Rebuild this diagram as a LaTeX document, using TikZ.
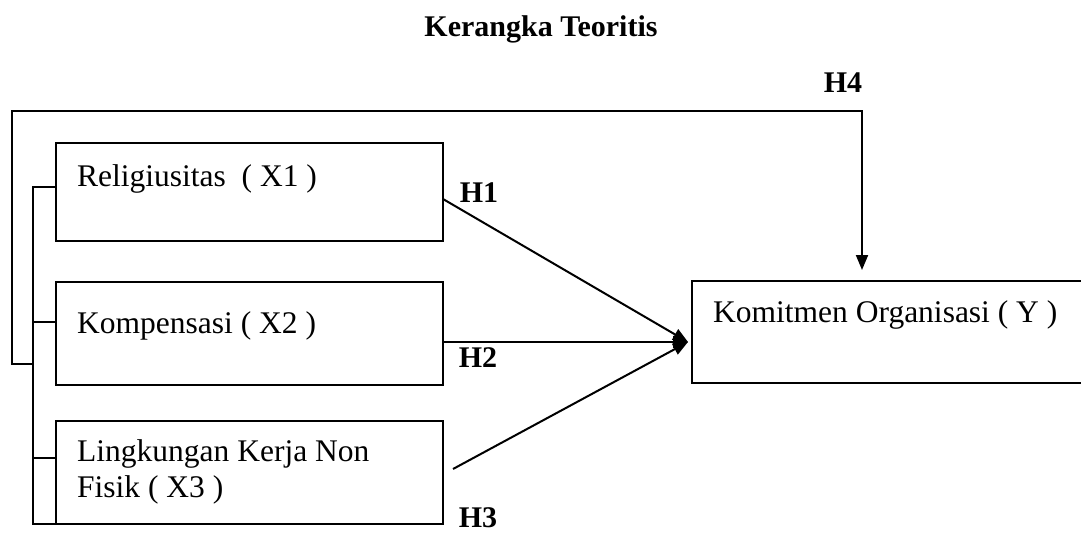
\documentclass[tikz,border=0pt]{standalone}
\usepackage{fontspec}
\setmainfont{Liberation Serif}
\usetikzlibrary{arrows.meta,positioning}

\begin{document}
\begin{tikzpicture}[x=1pt,y=-1pt,>={Triangle[length=15pt,width=12pt]},
    varbox/.style={draw,line width=1.8pt,rectangle,inner sep=0pt,outer sep=0pt,anchor=north west},
    txt/.style={inner sep=0pt,font=\fontsize{31.5}{36}\selectfont},
    hyp/.style={inner sep=0pt,font=\fontsize{30}{36}\selectfont\bfseries},
    link/.style={line width=2pt},
    arr/.style={->,line width=2pt}]
  \useasboundingbox (0,0) rectangle (1081,535);
  \node[hyp,anchor=base]					(title)	at (541,37)		{Kerangka Teoritis};
  % variable boxes
  \node[varbox,minimum width=387pt,minimum height=98pt]		(x1)	at (56,143)		{};
  \node[varbox,minimum width=387pt,minimum height=103pt]	(x2)	at (56,282)		{};
  \node[varbox,minimum width=387pt,minimum height=103pt]	(x3)	at (56,421)		{};
  \node[varbox,minimum width=420pt,minimum height=102pt]	(y)		at (692,281)	{};
  \node[txt,anchor=base west]				(x1txt)	at (77,186)		{Religiusitas \ ( X1 )};
  \node[txt,anchor=base west]				(x2txt)	at (77,333)		{Kompensasi ( X2 )};
  \node[txt,anchor=north west,align=left]	(x3txt)	at (77,439)		{Lingkungan Kerja Non\\Fisik ( X3 )};
  \node[txt,anchor=base west]				(ytxt)	at (713,322)	{Komitmen Organisasi ( Y )};
  % hypothesis labels
  \node[hyp]	(h1)	at (479,193)	{H1};
  \node[hyp]	(h2)	at (478,358)	{H2};
  \node[hyp]	(h3)	at (478,518)	{H3};
  \node[hyp]	(h4)	at (843,83)		{H4};
  % bracket joining X1, X2, X3
  \coordinate (bus)		at (33,0);
  \coordinate (join)	at (33,364);
  \coordinate (corner)	at (862,111);
  \coordinate (meet)	at ([xshift=-4pt,yshift=-10pt]y.west);
  \draw[link] ([yshift=5pt]x1.west) -- ([yshift=5pt]x1.west -| bus)
              -- (x3.south west -| bus) -- (x3.south west);
  \draw[link] ([yshift=12pt]x2.west) -- ([yshift=12pt]x2.west -| bus);
  \draw[link] ([yshift=15pt]x3.west) -- ([yshift=15pt]x3.west -| bus);
  \draw[arr] (join) -| (12,111) -- (corner) -- ([yshift=11pt]corner |- y.north);
  % partial effects
  \draw[arr] ([yshift=-7pt]x1.east) -- (meet);
  \draw[arr] (x2.east |- meet) -- (meet);
  \draw[arr] ([xshift=10pt,yshift=3.5pt]x3.east) -- (meet);
\end{tikzpicture}
\end{document}
